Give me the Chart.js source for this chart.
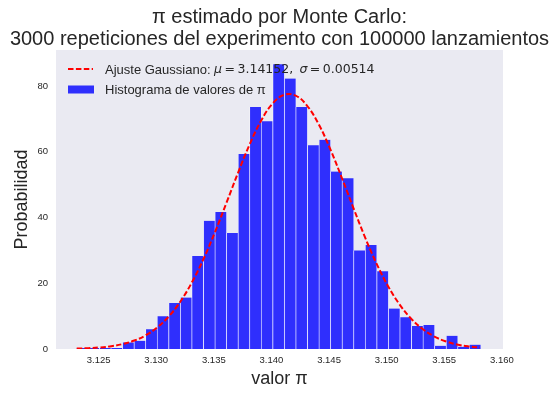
<!DOCTYPE html>
<html>
<head>
<meta charset="utf-8">
<script src="https://cdn.jsdelivr.net/npm/chart.js@4.4.0/dist/chart.umd.min.js"></script>
<style>
  body { margin: 0; background: #ffffff; }
</style>
</head>
<body>
<canvas id="myChart" width="559" height="394"></canvas>
<script>
// centres of the histogram bins (valor pi)
const binCenters = [
  3.12357, 3.12457, 3.12558, 3.12658, 3.12758, 3.12859, 3.12959, 3.13059,
  3.13160, 3.13260, 3.13360, 3.13461, 3.13561, 3.13661, 3.13762, 3.13862,
  3.13962, 3.14063, 3.14163, 3.14263, 3.14364, 3.14464, 3.14564, 3.14665,
  3.14765, 3.14865, 3.14966, 3.15066, 3.15166, 3.15267, 3.15367, 3.15467,
  3.15568, 3.15668, 3.15768
];
// bar heights (density)
const binHeights = [
  0.33, 0.33, 0.33, 0.33, 2.0, 2.5, 6.0, 10.0,
  14.0, 15.67, 28.33, 39.0, 41.67, 35.33, 59.33, 73.67,
  69.33, 86.67, 82.33, 73.67, 62.0, 63.67, 54.0, 52.0,
  30.0, 31.67, 23.67, 12.33, 9.67, 7.0, 7.33, 1.0,
  4.0, 0.67, 1.33
];
// dashed gaussian curve
const fitX = [
  3.1231, 3.1241, 3.1251, 3.1261, 3.1271, 3.1281, 3.1291, 3.1301, 3.1311,
  3.1321, 3.1331, 3.1341, 3.1351, 3.1361, 3.1371, 3.1381, 3.1391, 3.1401,
  3.1411, 3.1421, 3.1431, 3.1441, 3.1451, 3.1461, 3.1471, 3.1481, 3.1491,
  3.1501, 3.1511, 3.1521, 3.1531, 3.1541, 3.1551, 3.1561, 3.1571, 3.1581
];
const fitY = [
  0.13, 0.25, 0.47, 0.86, 1.52, 2.57, 4.19, 6.58, 9.94,
  14.47, 20.29, 27.38, 35.58, 44.51, 53.63, 62.2, 69.47, 74.71,
  77.36, 77.12, 74.03, 68.43, 60.89, 52.19, 43.06, 34.21, 26.17,
  19.27, 13.67, 9.33, 6.14, 3.88, 2.37, 1.39, 0.79, 0.43
];
const titleLines = ["π estimado por Monte Carlo:", "3000 repeticiones del experimento con 100000 lanzamientos"];
const muText = "3.14152";
const sigmaText = "0.00514";
const histLabel = "Histograma de valores de π";

const textColor = "#262626";
const sans = "'Liberation Sans', Arial, sans-serif";
const barColor = "rgba(0, 0, 255, 0.8)";
Chart.defaults.font.family = sans;

// grey axes background like seaborn
const bgPlugin = {
  id: "bgPlugin",
  beforeDraw(chart) {
    const c = chart.ctx;
    const a = chart.chartArea;
    c.save();
    c.fillStyle = "#ffffff";
    c.fillRect(0, 0, chart.width, chart.height);
    c.fillStyle = "#eaeaf2";
    c.fillRect(a.left, a.top, a.right - a.left, a.bottom - a.top);
    c.restore();
  },
};

// legend drawn inside the plot, upper left, no frame
const legendInside = {
  id: "legendInside",
  afterDatasetsDraw(chart) {
    const c = chart.ctx;
    const a = chart.chartArea;
    const hx = a.left + 12;
    const tx = a.left + 49;
    const y1 = a.top + 19;
    const y2 = a.top + 39.5;
    c.save();
    // line handle
    c.strokeStyle = "red";
    c.lineWidth = 2;
    c.setLineDash([5.5, 2.4]);
    c.beginPath();
    c.moveTo(hx, y1);
    c.lineTo(hx + 25, y1);
    c.stroke();
    c.setLineDash([]);
    // patch handle
    c.fillStyle = barColor;
    c.fillRect(hx, y2 - 4, 26, 8);

    c.fillStyle = textColor;
    c.textBaseline = "middle";
    const runs = [
      ["Ajuste Gaussiano: ", "13px " + sans],
      ["μ", "italic 12.5px 'DejaVu Sans'"],
      ["\u2009=\u2009" + muText + ",\u2002", "12.5px 'DejaVu Sans'"],
      ["σ", "italic 12.5px 'DejaVu Sans'"],
      ["\u2009=\u2009" + sigmaText, "12.5px 'DejaVu Sans'"],
    ];
    let x = tx;
    runs.forEach(function (r) {
      c.font = r[1];
      c.fillText(r[0], x, y1 + 1);
      x += c.measureText(r[0]).width;
    });
    c.font = "13px " + sans;
    c.fillText(histLabel, tx, y2 + 1);
    c.restore();
  },
};

const ctx = document.getElementById("myChart");
new Chart(ctx, {
  type: "bar",
  data: {
    datasets: [
      {
        type: "line",
        label: "Ajuste Gaussiano",
        data: fitX.map((x, i) => ({ x: x, y: fitY[i] })),
        borderColor: "red",
        borderWidth: 2,
        borderDash: [5.5, 2.4],
        pointRadius: 0,
        tension: 0.4,
        fill: false,
        order: 0,
      },
      {
        type: "bar",
        label: histLabel,
        data: binCenters.map((x, i) => ({ x: x, y: binHeights[i] })),
        backgroundColor: barColor,
        borderColor: "#ffffff",
        borderWidth: { left: 0.6, right: 0.6, top: 0, bottom: 0 },
        barPercentage: 1,
        categoryPercentage: 1,
        order: 1,
      },
    ],
  },
  options: {
    responsive: false,
    animation: false,
    devicePixelRatio: 1,
    layout: { padding: 0 },
    plugins: {
      legend: { display: false },
      tooltip: { enabled: false },
      title: {
        display: true,
        text: titleLines,
        color: textColor,
        font: { family: sans, size: 20, weight: "normal", lineHeight: 1.1 },
        padding: { top: 6, bottom: 0 },
      },
    },
    scales: {
      x: {
        type: "linear",
        min: 3.1213,
        max: 3.1601,
        offset: false,
        grid: { display: false, drawTicks: false },
        border: { display: false },
        ticks: {
          stepSize: 0.005,
          includeBounds: false,
          maxRotation: 0,
          padding: 6,
          color: textColor,
          font: { size: 9.5 },
          callback: (v) => v.toFixed(3),
        },
        title: {
          display: true,
          text: "valor π",
          color: textColor,
          font: { size: 18 },
          padding: { top: 0, bottom: 4 },
        },
        afterFit(s) {
          s.height = 45;
        },
      },
      y: {
        min: 0,
        max: 91,
        grid: { display: false, drawTicks: false },
        border: { display: false },
        ticks: {
          stepSize: 20,
          includeBounds: false,
          padding: 8,
          color: textColor,
          font: { size: 9.5 },
        },
        title: {
          display: true,
          text: "Probabilidad",
          color: textColor,
          font: { size: 18 },
          padding: { top: 11, bottom: 0 },
        },
        afterFit(s) {
          s.width = 56;
        },
      },
      // empty axis on the right, only keeps the margin there
      yRight: {
        position: "right",
        grid: { display: false, drawTicks: false },
        border: { display: false },
        ticks: { display: false },
        afterFit(s) {
          s.width = 56;
        },
      },
    },
  },
  plugins: [bgPlugin, legendInside],
});
</script>
</body>
</html>
